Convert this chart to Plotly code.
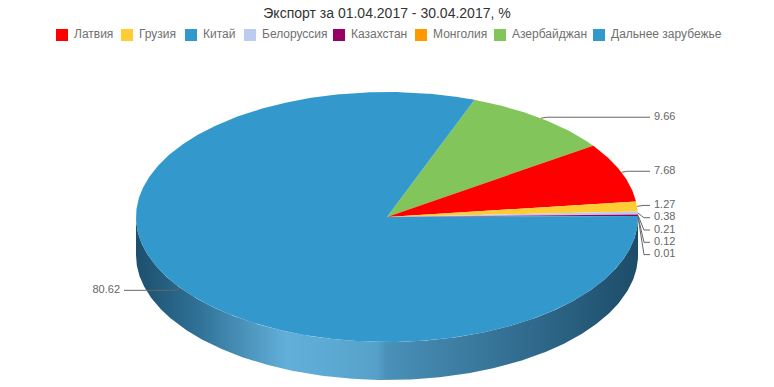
import numpy as np
import plotly.graph_objects as go

# ---- data ----
categories = ["Латвия", "Грузия", "Китай", "Белоруссия", "Казахстан",
              "Монголия", "Азербайджан", "Дальнее зарубежье"]
values = [7.68, 1.27, 0.12, 0.38, 0.21, 0.01, 9.66, 80.62]
colors = ["#ff0000", "#ffcc33", "#3399cc", "#bbccee", "#990066",
          "#ff9900", "#82c55b", "#3399cc"]
# clockwise drawing order of slices, starting at the top
draw_order = ["Азербайджан", "Латвия", "Грузия", "Белоруссия", "Казахстан",
              "Китай", "Монголия", "Дальнее зарубежье"]
title_text = "Экспорт за 01.04.2017 - 30.04.2017, %"

# ---- geometry (layout, in pixel-like axis units) ----
W, H = 774, 387
cx, cy = 387.0, 217.0
rx, ry = 251.0, 125.0
depth = 38.0
start_deg = 69.6
label_dist = 16.0
label_gap = 12.3
FONT = "Liberation Sans, Arial, sans-serif"

val = dict(zip(categories, values))
col = dict(zip(categories, colors))
total = sum(values)


def ex(t):
    return cx + rx * np.cos(np.radians(t))


def ey(t):
    return cy - ry * np.sin(np.radians(t))


def arc(a, b):
    n = max(2, int(abs(a - b) / 0.5) + 2)
    return np.linspace(a, b, n)


fig = go.Figure()

# slices (angles)
slices = []
a = start_deg
for name in draw_order:
    span = val[name] / total * 360.0
    slices.append((name, a, a - span))
    a -= span

# side walls (visible front part: angles in [-180, 0])
wall_scale = [[0.0, "#1c4f6d"], [0.12, "#2f7095"], [0.30, "#62b0da"],
              [0.48, "#55a1ca"], [0.50, "#4a90b8"], [0.75, "#336f92"],
              [1.0, "#1d4c69"]]
for name, a0, a1 in slices:
    lo, hi = max(a1, -180.0), min(a0, 0.0)
    if hi <= lo:
        continue
    t = arc(hi, lo)
    xs = np.concatenate([ex(t), ex(t[::-1])])
    ys = np.concatenate([ey(t), ey(t[::-1]) + depth])
    fig.add_trace(go.Scatter(
        x=xs, y=ys, fill="toself", mode="lines", line=dict(width=0),
        fillgradient=dict(type="horizontal", colorscale=wall_scale),
        hoverinfo="skip", showlegend=False))

# top faces
for name, a0, a1 in slices:
    t = arc(a0, a1)
    xs = np.concatenate([[cx], ex(t), [cx]])
    ys = np.concatenate([[cy], ey(t), [cy]])
    fig.add_trace(go.Scatter(
        x=xs, y=ys, fill="toself", mode="lines", line=dict(width=0),
        fillcolor=col[name], name=name,
        hoveron="fills", hoverinfo="text",
        text=f"{name}: {val[name]:.2f}%", showlegend=False))

# data labels with connectors
right, left = [], []
for name, a0, a1 in slices:
    m = (a0 + a1) / 2.0
    px, py = float(ex(m)), float(ey(m))
    if np.cos(np.radians(m)) >= 0:
        right.append([name, px, py, py - 1.0])
    else:
        left.append([name, px, py, py + 2.0])
for group in (right, left):
    group.sort(key=lambda r: r[2])
    for i in range(1, len(group)):
        if group[i][3] < group[i - 1][3] + label_gap:
            group[i][3] = group[i - 1][3] + label_gap

lbl_x, lbl_y, lbl_t, lbl_pos = [], [], [], []
for side, group in ((1, right), (-1, left)):
    for name, px, py, ly in group:
        tx = cx + side * (rx + label_dist)
        fig.add_trace(go.Scatter(
            x=[px, px + side * 6, tx - side * 4], y=[py, ly, ly],
            mode="lines", line=dict(color="#666666", width=1),
            hoverinfo="skip", showlegend=False))
        lbl_x.append(tx)
        lbl_y.append(ly)
        lbl_t.append(f"{val[name]:.2f}")
        lbl_pos.append("middle right" if side > 0 else "middle left")

fig.add_trace(go.Scatter(
    x=lbl_x, y=lbl_y, text=lbl_t, mode="text", textposition=lbl_pos,
    textfont=dict(family=FONT, size=11, color="#666666"),
    hoverinfo="skip", showlegend=False))

# legend (swatches + names)
leg_swatch_x = [62, 127, 191, 250, 339, 421, 500, 599]
leg_text_x = [74, 139, 203, 262, 351, 433, 512, 611]
leg_y = 35
fig.add_trace(go.Scatter(
    x=leg_swatch_x, y=[leg_y] * len(categories), mode="markers",
    marker=dict(symbol="square", size=12, color=colors, line=dict(width=0)),
    hoverinfo="skip", showlegend=False))
fig.add_trace(go.Scatter(
    x=leg_text_x, y=[leg_y] * len(categories), mode="text",
    text=categories, textposition="middle right",
    textfont=dict(family=FONT, size=12, color="#707070"),
    hoverinfo="skip", showlegend=False))

fig.update_layout(
    width=W, height=H,
    margin=dict(l=0, r=0, t=0, b=0),
    paper_bgcolor="white", plot_bgcolor="white",
    title=dict(text=title_text, x=0.5, xanchor="center",
               y=1 - 13.5 / H, yanchor="middle",
               yref="container", xref="container",
               font=dict(family=FONT, size=14, color="#333333")),
    xaxis=dict(range=[0, W], visible=False, fixedrange=True),
    yaxis=dict(range=[H, 0], visible=False, fixedrange=True),
    showlegend=False,
)

fig.write_html("out.html",
               config={"displayModeBar": False},
               post_script="document.body.style.margin='0';"
                           "document.body.style.overflow='hidden';")
